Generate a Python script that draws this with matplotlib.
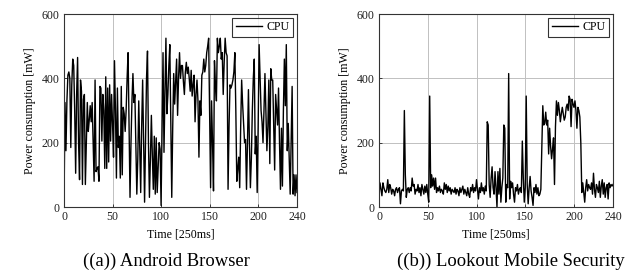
import matplotlib
matplotlib.use("Agg")
import matplotlib.pyplot as plt
import numpy as np

plt.rcParams['font.family'] = ['Liberation Serif', 'DejaVu Serif']
plt.rcParams['mathtext.fontset'] = 'stix'

time_a = list(range(241))
cpu_a = [
    0, 325, 175, 330, 410, 420, 400, 185, 380, 460,
    440, 300, 105, 350, 465, 200, 85, 395, 360, 70,
    335, 350, 70, 200, 325, 235, 270, 315, 265, 325,
    200, 80, 395, 110, 120, 125, 80, 375, 370, 205,
    350, 300, 120, 405, 120, 370, 140, 380, 205, 350,
    260, 155, 455, 300, 90, 370, 185, 220, 90, 375,
    100, 310, 290, 235, 300, 400, 480, 250, 30, 200,
    330, 415, 325, 350, 200, 40, 150, 330, 180, 45,
    250, 395, 200, 15, 200, 400, 485, 200, 30, 150,
    285, 160, 55, 220, 40, 215, 45, 120, 200, 180,
    5, 250, 480, 170, 360, 525, 290, 350, 440, 505,
    260, 30, 250, 415, 320, 390, 460, 285, 400, 480,
    400, 440, 440, 390, 350, 420, 450, 415, 435, 400,
    360, 425, 345, 380, 410, 265, 350, 395, 330, 155,
    330, 285, 410, 420, 460, 420, 440, 480, 500, 525,
    300, 60, 330, 200, 50, 455, 380, 330, 525, 480,
    500, 525, 460, 480, 350, 450, 525, 480, 470, 55,
    250, 380, 370, 380, 395, 420, 480, 300, 80, 120,
    155, 60, 250, 395, 320, 260, 200, 210, 55, 200,
    365, 200, 60, 150, 300, 400, 460, 165, 220, 45,
    250, 505, 400, 300, 265, 200, 300, 415, 300, 175,
    250, 395, 135, 430, 395, 395, 250, 115, 350, 300,
    255, 370, 200, 55, 245, 65, 300, 460, 315, 505,
    175, 260, 150, 40, 200, 375, 40, 100, 35, 100,
    45,
]

time_b = list(range(241))
cpu_b = [
    40, 75, 55, 35, 75, 60, 50, 45, 55, 85,
    45, 70, 60, 40, 55, 50, 35, 55, 60, 45,
    55, 60, 10, 50, 55, 50, 300, 100, 30, 55,
    60, 45, 60, 50, 90, 65, 70, 40, 55, 50,
    70, 45, 60, 35, 70, 55, 40, 65, 45, 70,
    40, 15, 345, 60, 100, 65, 90, 55, 90, 45,
    60, 50, 65, 45, 55, 50, 40, 75, 55, 70,
    45, 65, 50, 60, 40, 55, 50, 45, 60, 40,
    55, 50, 35, 60, 45, 55, 65, 40, 55, 45,
    35, 60, 40, 30, 60, 50, 70, 45, 60, 50,
    85, 55, 25, 60, 45, 75, 50, 60, 40, 65,
    50, 265, 255, 70, 30, 90, 125, 60, 40, 110,
    60, 0, 110, 40, 120, 15, 60, 90, 255, 245,
    15, 70, 60, 415, 25, 80, 60, 75, 40, 15,
    60, 50, 70, 40, 55, 60, 45, 205, 90, 15,
    60, 345, 70, 10, 60, 95, 50, 30, 5, 60,
    45, 70, 40, 60, 35, 40, 55, 180, 315, 255,
    260, 295, 255, 270, 165, 245, 190, 150, 180, 215,
    70, 250, 330, 285, 325, 300, 265, 290, 310, 290,
    270, 280, 310, 320, 300, 345, 335, 250, 335, 320,
    310, 330, 300, 245, 310, 300, 280, 200, 45, 75,
    45, 15, 60, 85, 50, 70, 60, 55, 75, 40,
    105, 55, 30, 70, 60, 45, 80, 30, 65, 85,
    40, 75, 30, 60, 70, 25, 75, 60, 70, 65,
    70,
]

xticks = [0, 50, 100, 150, 200, 240]
yticks = [0, 200, 400, 600]
xlabel = "Time [250ms]"
ylabel = "Power consumption [mW]"
captions = ["((a)) Android Browser", "((b)) Lookout Mobile Security"]
legend_label = "CPU"

fig = plt.figure(figsize=(6.3, 2.76), dpi=100)
ax1 = fig.add_axes([0.1016, 0.25, 0.3698, 0.699])
ax2 = fig.add_axes([0.6016, 0.25, 0.3714, 0.699])

for ax, t, v in [(ax1, time_a, cpu_a), (ax2, time_b, cpu_b)]:
    ax.plot(t, v, color='black', lw=1.0, label=legend_label)
    ax.set_xlim(0, 240)
    ax.set_ylim(0, 600)
    ax.set_xticks(xticks)
    ax.set_yticks(yticks)
    ax.grid(True, color='#c0c0c0', lw=0.7)
    ax.set_axisbelow(True)
    ax.tick_params(direction='in', length=2.5, width=0.6, labelsize=8.6, pad=3,
                   colors='#222222')
    for s in ax.spines.values():
        s.set_color('#333333')
        s.set_linewidth(0.8)
    ax.set_xlabel(xlabel, fontsize=8.6, labelpad=4)
    ax.set_ylabel(ylabel, fontsize=8.6, labelpad=4)
    leg = ax.legend(loc='upper right', fontsize=8.6, frameon=True, fancybox=False,
                    edgecolor='black', borderaxespad=0.3, handlelength=2.2,
                    handletextpad=0.4, borderpad=0.3)
    leg.get_frame().set_linewidth(0.8)

fig.text(166 / 630, 1 - 261 / 276, captions[0], ha='center', va='center', fontsize=13.4)
fig.text(511 / 630, 1 - 261 / 276, captions[1], ha='center', va='center', fontsize=13.4)

fig.savefig("out.png", dpi=100)
